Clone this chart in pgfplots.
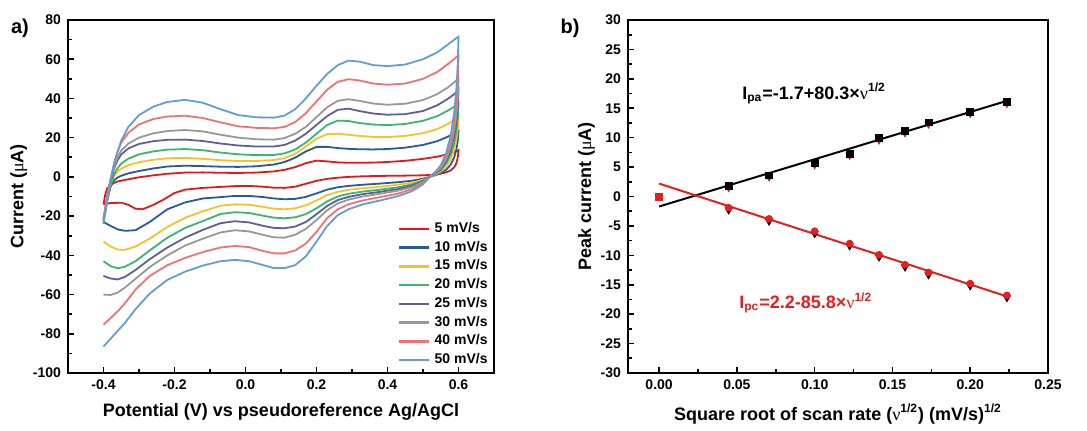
\documentclass[border=0pt]{standalone}
\usepackage{fontspec}
\setmainfont{Liberation Sans}
\newfontfamily\symf{Liberation Serif}
\usepackage{pgfplots}
\pgfplotsset{compat=1.18}

\definecolor{cA}{RGB}{225,25,25}
\definecolor{cB}{RGB}{40,90,150}
\definecolor{cC}{RGB}{250,192,40}
\definecolor{cD}{RGB}{60,182,110}
\definecolor{cE}{RGB}{95,95,150}
\definecolor{cF}{RGB}{152,152,152}
\definecolor{cG}{RGB}{245,112,112}
\definecolor{cH}{RGB}{100,157,210}
\definecolor{fitred}{RGB}{230,30,30}

\newcommand{\mug}{{\symf\mdseries μ}}
\newcommand{\nug}{{\symf\mdseries ν}}

\pgfplotsset{
  panel/.style={
    scale only axis,
    axis line style={line width=1pt},
    tick align=inside,
    xtick pos=bottom, ytick pos=left,
    major tick length=3pt, minor tick length=1.8pt,
    minor tick num=1,
    every tick/.style={black, line width=0.8pt},
    /pgf/number format/assume math mode=true,
    tick label style={font=\bfseries\fontsize{7}{8}\selectfont},
    label style={font=\bfseries\fontsize{9}{10}\selectfont},
    ylabel style={yshift=-4pt},
  },
}

\begin{document}
\begin{tikzpicture}
\useasboundingbox (0,0) rectangle (543.5pt,215pt);

\node[font=\bfseries\fontsize{10}{11}\selectfont] at (10pt,201pt) {a)};
\node[font=\bfseries\fontsize{10}{11}\selectfont] at (285pt,201pt) {b)};

% ---------- a) cyclic voltammograms
\begin{axis}[panel,
  at={(34pt,28.5pt)}, anchor=south west,
  width=213pt, height=176.5pt,
  xmin=-0.5, xmax=0.7, ymin=-100, ymax=80,
  xtick={-0.4,-0.2,0,0.2,0.4,0.6},
  ytick={-100,-80,-60,-40,-20,0,20,40,60,80},
  xticklabel style={/pgf/number format/.cd, fixed, fixed zerofill, precision=1},
  xlabel={Potential (V) vs pseudoreference Ag/AgCl},
  ylabel={Current (\mug A)},
  legend cell align=left,
  legend style={at={(1,0)}, anchor=south east, draw=none, fill=none,
    font=\bfseries\fontsize{7}{8}\selectfont, row sep=-1.2pt, inner sep=1pt},
  legend image code/.code={\draw[#1, line width=1.3pt] (0pt,0pt) -- (15pt,0pt);},
  every axis plot/.append style={line width=0.9pt},
]
\addplot[cA] coordinates {
(-0.4,-14)(-0.395,-9)(-0.39,-6)(-0.38,-4)(-0.37,-3)(-0.36,-2.3)(-0.33,-1.2)(-0.3,-0.2)
(-0.26,0.8)(-0.22,1.6)(-0.17,2.2)(-0.12,2.3)(-0.07,2.1)(-0.02,2)(0.03,2.2)(0.08,2.8)
(0.11,3.6)(0.14,5)(0.17,7)(0.2,8.3)(0.23,7.9)(0.26,7.4)(0.29,7.2)(0.32,7.2)(0.36,7.3)
(0.4,7.6)(0.45,8.2)(0.5,9.2)(0.54,10.3)(0.57,11.6)(0.59,12.8)(0.6,13.6)
(0.598,10)(0.594,7)(0.588,5)(0.578,3.3)(0.565,2.3)(0.55,1.6)(0.535,1.2)(0.52,1)(0.5,0.8)
(0.47,0.7)(0.43,0.6)(0.38,0.5)(0.33,0.3)(0.29,0)(0.26,-0.4)(0.23,-1)(0.2,-2)(0.17,-3.5)
(0.14,-5)(0.11,-5.6)(0.08,-5.5)(0.05,-5)(0.01,-4.6)(-0.03,-4.7)(-0.07,-5.1)(-0.12,-5.6)
(-0.17,-6.5)(-0.2,-8.2)(-0.23,-11.5)(-0.26,-14.3)(-0.29,-16.5)(-0.31,-16.2)(-0.33,-14.2)
(-0.35,-13.2)(-0.38,-13.3)(-0.4,-14)
};
\addlegendentry{5 mV/s}
\addplot[cB] coordinates {
(-0.4,-22)(-0.39,-12)(-0.38,-5)(-0.37,-1.6)(-0.36,-0.3)(-0.35,0.6)(-0.33,1.8)(-0.3,3)
(-0.26,4.3)(-0.22,5.3)(-0.17,5.7)(-0.12,5.5)(-0.07,5.2)(-0.02,5.1)(0.03,5.4)(0.08,6.3)
(0.11,7.6)(0.14,9.8)(0.17,13)(0.2,15.3)(0.23,15.3)(0.26,14.7)(0.29,14.3)(0.32,14.1)(0.36,14)
(0.4,14.2)(0.45,14.9)(0.5,16.3)(0.54,18.2)(0.57,20.5)(0.59,22.5)(0.6,23.5)
(0.598,18.5)(0.594,14)(0.588,10)(0.578,6.3)(0.565,3.6)(0.55,1.9)(0.535,0.8)(0.52,0.1)(0.5,-0.9)
(0.47,-1.9)(0.43,-2.7)(0.38,-3.4)(0.33,-4)(0.29,-4.6)(0.26,-5.3)(0.23,-6.5)(0.2,-8.4)(0.17,-10.2)
(0.14,-11.2)(0.11,-11.4)(0.08,-11)(0.05,-10.3)(0.01,-9.7)(-0.03,-9.7)(-0.07,-10.3)(-0.12,-11)
(-0.17,-13)(-0.22,-16.5)(-0.27,-23)(-0.31,-27.2)(-0.34,-27.5)(-0.36,-26.8)(-0.38,-25)(-0.4,-23)
};
\addlegendentry{10 mV/s}
\addplot[cC] coordinates {
(-0.4,-23)(-0.39,-12)(-0.38,-4)(-0.37,0.5)(-0.36,2.8)(-0.35,4.2)(-0.33,6)(-0.3,7.5)
(-0.26,8.7)(-0.22,9.5)(-0.17,9.7)(-0.12,9.2)(-0.07,8.5)(-0.02,8.1)(0.03,8.1)(0.08,8.6)
(0.11,9.6)(0.14,11.8)(0.17,15.5)(0.2,19.5)(0.23,21.8)(0.26,22)(0.29,21.5)(0.32,20.9)(0.36,20.4)
(0.4,20.3)(0.45,20.9)(0.5,22.3)(0.54,24.4)(0.57,27)(0.59,29.3)(0.6,30.7)
(0.598,24.5)(0.594,19)(0.588,14)(0.578,9)(0.565,5.3)(0.55,2.8)(0.535,1.1)(0.52,0.1)(0.5,-1.4)
(0.47,-2.9)(0.43,-4)(0.38,-5)(0.33,-5.8)(0.29,-6.6)(0.26,-7.6)(0.23,-9.3)(0.2,-12)(0.17,-14.5)
(0.14,-16)(0.11,-16.5)(0.08,-16.2)(0.05,-15.3)(0.01,-14.2)(-0.03,-14)(-0.07,-14.7)(-0.12,-17.5)
(-0.17,-20.8)(-0.22,-25.5)(-0.27,-31.5)(-0.31,-35.5)(-0.34,-37.2)(-0.36,-37)(-0.38,-35.5)(-0.4,-33)
};
\addlegendentry{15 mV/s}
\addplot[cD] coordinates {
(-0.4,-24)(-0.39,-13)(-0.38,-4)(-0.37,1.5)(-0.36,4.5)(-0.35,6.8)(-0.33,9.3)(-0.3,11.5)
(-0.26,13)(-0.22,13.9)(-0.17,14.2)(-0.12,13.6)(-0.07,12.4)(-0.02,11.5)(0.03,11.1)(0.08,11.2)
(0.11,12)(0.14,14)(0.17,17.5)(0.2,22)(0.23,26.5)(0.26,28.7)(0.29,28.5)(0.32,27.5)(0.36,26.7)
(0.4,26.4)(0.45,27)(0.5,28.6)(0.54,31)(0.57,33.8)(0.59,36)(0.6,37.5)
(0.598,30)(0.594,23.5)(0.588,17.5)(0.578,11.5)(0.565,6.8)(0.55,3.5)(0.535,1.4)(0.52,0.2)(0.5,-1.8)
(0.47,-3.8)(0.43,-5.3)(0.38,-6.5)(0.33,-7.5)(0.29,-8.6)(0.26,-10)(0.23,-12.5)(0.2,-16)(0.17,-19)
(0.14,-20.6)(0.11,-21.1)(0.08,-20.8)(0.05,-19.8)(0.01,-18.4)(-0.03,-18)(-0.07,-18.9)(-0.12,-22.5)
(-0.17,-26)(-0.22,-31)(-0.27,-37.5)(-0.31,-43)(-0.34,-45.8)(-0.36,-46.6)(-0.38,-45.5)(-0.4,-43)
};
\addlegendentry{20 mV/s}
\addplot[cE] coordinates {
(-0.4,-22)(-0.39,-11)(-0.38,-2)(-0.37,4.5)(-0.36,8.5)(-0.35,11.5)(-0.33,14.5)(-0.3,16.8)
(-0.26,18.2)(-0.22,18.9)(-0.17,19)(-0.12,18.3)(-0.07,17)(-0.02,16)(0.03,15.5)(0.08,15.5)
(0.11,16.3)(0.14,18.5)(0.17,22)(0.2,26.5)(0.23,31)(0.26,34.2)(0.29,34.8)(0.32,33.6)(0.36,32.3)
(0.4,31.7)(0.45,32)(0.5,33.6)(0.54,36.5)(0.57,39.8)(0.59,42.5)(0.6,44.5)
(0.598,36)(0.594,28)(0.588,21)(0.578,13.5)(0.565,8)(0.55,4)(0.535,1.6)(0.52,0.3)(0.5,-2.2)
(0.47,-4.5)(0.43,-6.2)(0.38,-7.6)(0.33,-8.8)(0.29,-10.2)(0.26,-11.8)(0.23,-14.8)(0.2,-19)(0.17,-23)
(0.14,-25.3)(0.11,-26.2)(0.08,-26)(0.05,-25)(0.01,-23.2)(-0.03,-22.6)(-0.07,-23.6)(-0.12,-27)
(-0.17,-31)(-0.22,-36)(-0.27,-42)(-0.31,-47.5)(-0.34,-51)(-0.36,-52.3)(-0.38,-51.8)(-0.4,-50.5)
};
\addlegendentry{25 mV/s}
\addplot[cF] coordinates {
(-0.4,-21)(-0.39,-10)(-0.38,-1)(-0.37,5.5)(-0.36,10)(-0.35,13.5)(-0.33,17)(-0.3,20)
(-0.26,22.2)(-0.22,23.4)(-0.17,23.9)(-0.12,23.2)(-0.07,21.5)(-0.02,20)(0.03,19.2)(0.08,19)
(0.11,19.8)(0.14,22)(0.17,25.5)(0.2,30.5)(0.23,35.5)(0.26,38.8)(0.29,39.6)(0.32,38.8)(0.36,37.4)
(0.4,36.8)(0.45,37.3)(0.5,39.2)(0.54,42.2)(0.57,45.6)(0.59,48.5)(0.6,50.3)
(0.598,41)(0.594,32)(0.588,24)(0.578,15.5)(0.565,9)(0.55,4.6)(0.535,1.9)(0.52,0.3)(0.5,-2.6)
(0.47,-5.2)(0.43,-7)(0.38,-8.6)(0.33,-10)(0.29,-11.6)(0.26,-13.5)(0.23,-17)(0.2,-22)(0.17,-26.5)
(0.14,-29.5)(0.11,-31)(0.08,-30.8)(0.05,-29.6)(0.01,-27.8)(-0.03,-27.2)(-0.07,-28.3)(-0.12,-31.5)
(-0.17,-35)(-0.22,-40)(-0.27,-46)(-0.31,-52)(-0.34,-56.5)(-0.36,-59)(-0.38,-60.2)(-0.4,-60)
};
\addlegendentry{30 mV/s}
\addplot[cG] coordinates {
(-0.4,-22)(-0.39,-11)(-0.38,-1)(-0.37,7)(-0.36,13)(-0.35,17.5)(-0.33,22.5)(-0.3,26.8)
(-0.26,29.5)(-0.22,30.8)(-0.17,31.2)(-0.12,30)(-0.07,27.8)(-0.02,25.8)(0.03,25)(0.08,24.8)
(0.11,25.5)(0.14,28)(0.17,32.5)(0.2,38.5)(0.23,44.5)(0.26,48.5)(0.29,49.8)(0.32,49.2)(0.36,47.6)
(0.4,47)(0.45,47.6)(0.5,50)(0.54,53.5)(0.57,57.5)(0.59,60.5)(0.6,62)
(0.598,50)(0.594,39)(0.588,28.5)(0.578,18)(0.565,10.5)(0.55,5.3)(0.535,2.2)(0.52,0.3)(0.5,-3.2)
(0.47,-6.2)(0.43,-8.5)(0.38,-10.3)(0.33,-12)(0.29,-14)(0.26,-16.5)(0.23,-21)(0.2,-28)(0.17,-34)
(0.14,-37.5)(0.11,-39)(0.08,-39)(0.05,-37.8)(0.01,-35.8)(-0.03,-35.2)(-0.07,-36)(-0.12,-38.3)
(-0.17,-41.3)(-0.22,-45)(-0.27,-50.5)(-0.31,-57.5)(-0.34,-64.5)(-0.36,-68.5)(-0.38,-72)(-0.4,-75.3)
};
\addlegendentry{40 mV/s}
\addplot[cH] coordinates {
(-0.4,-23)(-0.39,-12)(-0.38,-2)(-0.37,7)(-0.36,13)(-0.35,18.5)(-0.33,25.5)(-0.3,31.5)
(-0.26,35.8)(-0.22,38.2)(-0.17,39.3)(-0.12,37.8)(-0.07,34.5)(-0.02,31.5)(0.03,30.4)(0.08,30.2)
(0.11,31.3)(0.14,34.5)(0.17,40)(0.2,46.5)(0.23,52.5)(0.26,57)(0.29,59.3)(0.32,58.8)(0.36,57)
(0.4,56.5)(0.45,57.3)(0.5,60)(0.54,63.5)(0.57,67.5)(0.59,70.2)(0.6,71.5)
(0.598,58)(0.594,45)(0.588,33)(0.578,21)(0.565,12)(0.55,6)(0.535,2.5)(0.52,0.3)(0.5,-3.8)
(0.47,-7.2)(0.43,-9.8)(0.38,-12)(0.33,-14)(0.29,-16.5)(0.26,-19.5)(0.23,-25)(0.2,-33)(0.17,-40.5)
(0.14,-45)(0.11,-46.5)(0.08,-46.5)(0.05,-45)(0.01,-43)(-0.03,-42.3)(-0.07,-43)(-0.12,-45.2)
(-0.17,-48.3)(-0.22,-52.5)(-0.27,-59.5)(-0.31,-67.5)(-0.34,-74.5)(-0.36,-78.5)(-0.38,-82.5)(-0.4,-86.5)
};
\addlegendentry{50 mV/s}
\end{axis}

% ---------- b) peak current vs square root of scan rate
\begin{axis}[panel,
  at={(314pt,28.5pt)}, anchor=south west,
  width=210pt, height=176.5pt,
  xmin=-0.02, xmax=0.25, ymin=-30, ymax=30,
  xtick={0,0.05,0.1,0.15,0.2,0.25},
  ytick={-30,-25,-20,-15,-10,-5,0,5,10,15,20,25,30},
  xticklabel style={/pgf/number format/.cd, fixed, fixed zerofill, precision=2},
  xlabel={Square root of scan rate (\nug\textsuperscript{1/2}) (mV/s)\textsuperscript{1/2}},
  ylabel={Peak current (\mug A)},
]
% linear fits
\addplot[black, line width=1pt] coordinates {(0,-1.7)(0.2236,16.26)};
\addplot[fitred, line width=1pt] coordinates {(0,2.2)(0.2236,-16.98)};
% anodic peaks
\addplot[only marks, mark=triangle*, mark size=2pt, fitred, mark options={rotate=180}] coordinates {
(0.0447,1.5)(0.0707,3.3)(0.1,5.4)(0.1225,7.0)(0.1414,9.6)(0.1581,10.8)(0.1732,12.3)(0.2,14.1)(0.2236,15.8)
};
\addplot[only marks, mark=square*, mark size=1.7pt, black] coordinates {
(0.0447,1.8)(0.0707,3.6)(0.1,5.7)(0.1225,7.3)(0.1414,9.9)(0.1581,11.1)(0.1732,12.6)(0.2,14.4)(0.2236,16.1)
};
% cathodic peaks
\addplot[only marks, mark=triangle*, mark size=2pt, black, mark options={rotate=180}] coordinates {
(0.0447,-2.3)(0.0707,-4.2)(0.1,-6.3)(0.1225,-8.4)(0.1414,-10.3)(0.1581,-12.0)(0.1732,-13.3)(0.2,-15.2)(0.2236,-17.2)
};
\addplot[only marks, mark=*, mark size=1.7pt, fitred] coordinates {
(0.0447,-1.9)(0.0707,-3.8)(0.1,-5.9)(0.1225,-8.0)(0.1414,-9.9)(0.1581,-11.6)(0.1732,-12.9)(0.2,-14.8)(0.2236,-16.8)
};
\addplot[only marks, mark=square*, mark size=1.7pt, fitred] coordinates {(0,0)};

\node[anchor=west, font=\bfseries\fontsize{9}{10}\selectfont] at (axis cs:0.049,17.5)
  {I\textsubscript{pa}=-1.7+80.3×\nug\textsuperscript{1/2}};
\node[anchor=west, text=fitred, font=\bfseries\fontsize{9}{10}\selectfont] at (axis cs:0.047,-18.1)
  {I\textsubscript{pc}=2.2-85.8×\nug\textsuperscript{1/2}};
\end{axis}
\end{tikzpicture}
\end{document}
